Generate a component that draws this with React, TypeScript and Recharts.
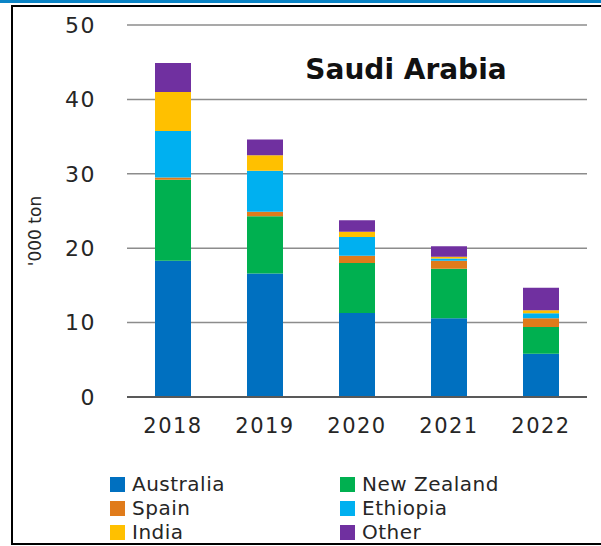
import { BarChart, Bar, XAxis, YAxis, CartesianGrid } from "recharts";

// values in '000 ton
const years = ["2018", "2019", "2020", "2021", "2022"];
const australia = [18.3, 16.6, 11.3, 10.6, 5.8];
const newZealand = [10.9, 7.7, 6.7, 6.65, 3.6];
const spain = [0.3, 0.6, 1.0, 1.05, 1.2];
const ethiopia = [6.25, 5.5, 2.5, 0.3, 0.65];
const india = [5.25, 2.1, 0.7, 0.25, 0.4];
const other = [3.9, 2.1, 1.55, 1.4, 3.05];
const yTicks = [0, 10, 20, 30, 40, 50];

const series = [
  { key: "australia", name: "Australia", values: australia, color: "#0070C0" },
  { key: "newZealand", name: "New Zealand", values: newZealand, color: "#00B050" },
  { key: "spain", name: "Spain", values: spain, color: "#E07B1A" },
  { key: "ethiopia", name: "Ethiopia", values: ethiopia, color: "#00B0F0" },
  { key: "india", name: "India", values: india, color: "#FFC000" },
  { key: "other", name: "Other", values: other, color: "#7030A0" },
];

const data = years.map((year, i) => {
  const row: Record<string, string | number> = { year };
  series.forEach((s) => {
    row[s.key] = s.values[i];
  });
  return row;
});

// legend is laid out in two columns, row by row
const legendOrder = ["australia", "newZealand", "spain", "ethiopia", "india", "other"];

const font = "'DejaVu Sans', sans-serif";
const xTickStyle = { fill: "#262626", fontSize: 21, fontFamily: font, letterSpacing: 1.5 };
const yTickStyle = { fill: "#262626", fontSize: 22, fontFamily: font, letterSpacing: 1.5 };

function YLabel() {
  return (
    <text
      x={35}
      y={231}
      transform="rotate(-90 35 231)"
      textAnchor="middle"
      dominantBaseline="central"
      fontSize={17}
      fontFamily={font}
      fill="#262626"
    >
      '000 ton
    </text>
  );
}

export default function App() {
  return (
    <div
      style={{
        position: "absolute",
        left: 0,
        top: 0,
        width: 601,
        height: 546,
        overflow: "hidden",
        background: "#fff",
      }}
    >
      <div style={{ position: "absolute", left: 0, top: 0, width: 601, height: 3, background: "#0A84C6" }} />
      <div
        style={{
          position: "absolute",
          left: 11,
          top: 5,
          width: 640,
          height: 540,
          border: "2px solid #000",
          boxSizing: "border-box",
        }}
      />
      <div style={{ position: "absolute", left: 0, top: 0 }}>
        <BarChart width={601} height={546} data={data} margin={{ top: 25, right: 14, bottom: 109, left: 0 }}>
          <CartesianGrid horizontal vertical={false} stroke="#8C8C8C" strokeWidth={1.5} />
          <XAxis
            dataKey="year"
            height={40}
            axisLine={{ stroke: "#595959", strokeWidth: 2 }}
            tickLine={false}
            tickSize={0}
            tickMargin={21}
            tick={xTickStyle}
          />
          <YAxis
            width={127}
            domain={[0, 50]}
            ticks={yTicks}
            axisLine={false}
            tickLine={false}
            tickSize={0}
            tickMargin={31}
            tick={yTickStyle}
            label={<YLabel />}
          />
          {series.map((s) => (
            <Bar
              key={s.key}
              dataKey={s.key}
              name={s.name}
              stackId="a"
              fill={s.color}
              barSize={36}
              isAnimationActive={false}
            />
          ))}
        </BarChart>
      </div>
      <div
        style={{
          position: "absolute",
          left: 280,
          width: 252,
          top: 56,
          textAlign: "center",
          fontFamily: font,
          fontWeight: "bold",
          fontSize: 28,
          lineHeight: "28px",
          color: "#111",
        }}
      >
        Saudi Arabia
      </div>
      <div
        style={{
          position: "absolute",
          left: 110,
          top: 472,
          display: "grid",
          gridTemplateColumns: "230px 230px",
          rowGap: 0,
          fontFamily: font,
          fontSize: 20,
          color: "#262626",
        }}
      >
        {legendOrder.map((k) => {
          const s = series.find((x) => x.key === k)!;
          return (
            <div key={k} style={{ display: "flex", alignItems: "center", height: 24 }}>
              <span style={{ display: "inline-block", width: 15, height: 15, background: s.color, marginRight: 7 }} />
              <span style={{ letterSpacing: 0.5 }}>{s.name}</span>
            </div>
          );
        })}
      </div>
    </div>
  );
}
